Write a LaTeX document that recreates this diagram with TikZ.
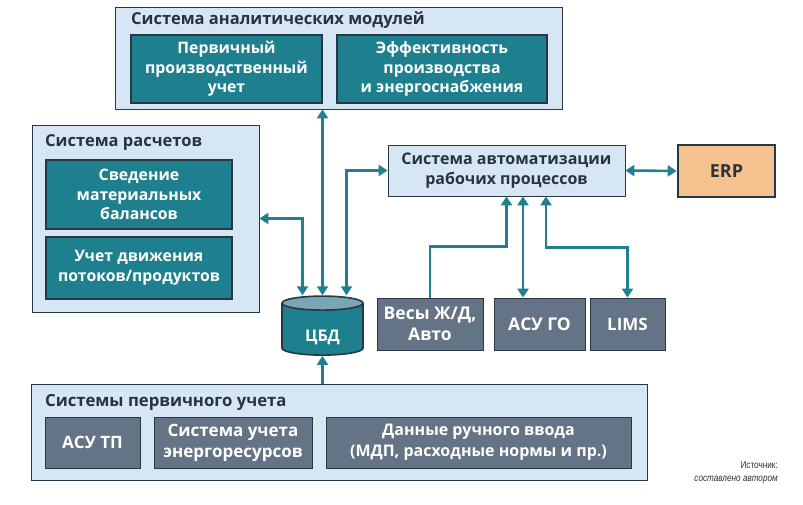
\documentclass[tikz,border=0pt]{standalone}
\usepackage{fontspec}
\setmainfont{Open Sans}
\newfontfamily\notefont[FakeStretch=0.82]{Liberation Sans}
\usepackage{tikz}
\usetikzlibrary{shapes.geometric, arrows.meta, positioning, calc}

\definecolor{groupblue}{RGB}{214, 230, 245}
\definecolor{linedark}{RGB}{40, 55, 68}
\definecolor{modteal}{RGB}{30, 127, 142}
\definecolor{arrowteal}{RGB}{30, 128, 145}
\definecolor{srcgray}{RGB}{100, 115, 134}
\definecolor{captop}{RGB}{122, 166, 180}
\definecolor{erporange}{RGB}{245, 193, 143}
\definecolor{textdark}{RGB}{42, 50, 60}

\tikzset{
  group/.style={draw=linedark, line width=0.8pt, fill=groupblue, inner sep=0pt},
  grouptitle/.style={anchor=west, inner sep=0pt, text=textdark, font=\bfseries\fontsize{16.5}{18}\selectfont},
  modbox/.style={draw=linedark, line width=2.6pt, fill=modteal, text=white, align=center, inner sep=0pt, font=\bfseries\fontsize{15.8}{19.5}\selectfont},
  srcbox/.style={draw=linedark, line width=0.8pt, fill=srcgray, text=white, align=center, inner sep=0pt, font=\bfseries\fontsize{17}{21}\selectfont},
  link/.style={draw=arrowteal, line width=2.6pt, -{Triangle[length=9pt, width=11pt]}},
  bilink/.style={link, {Triangle[length=9pt, width=11pt]}-{Triangle[length=9pt, width=11pt]}},
}

\begin{document}
\begin{tikzpicture}[x=1pt, y=-1pt]
  \useasboundingbox (0,0) rectangle (803,505);

  % Analytics modules
  \node[group, minimum width=447, minimum height=102] (analytic) at (338.5,58) {};
  \node[grouptitle] (analytictitle) at (131,20) {Система аналитических модулей};
  \node[modbox, minimum width=191, minimum height=68] (prodacc) at (226.5,69) {Первичный\\производственный\\учет};
  \node[modbox, minimum width=210, minimum height=68] (effic) at (442,69) {Эффективность\\производства\\и энергоснабжения};

  % Calculations
  \node[group, minimum width=227, minimum height=187] (calc) at (145.5,218.5) {};
  \node[grouptitle] (calctitle) at (45,143) {Система расчетов};
  \node[modbox, minimum width=186, minimum height=69] (balance) at (139,194.5) {Сведение\\материальных\\балансов};
  \node[modbox, minimum width=186, minimum height=62] (flows) at (139,268) {Учет движения\\потоков/продуктов};

  % Central database
  \node[cylinder, shape border rotate=90, aspect=0.4, draw=linedark, line width=1.6pt,
        cylinder uses custom fill, cylinder body fill=modteal, cylinder end fill=captop,
        minimum width=81, minimum height=59, inner sep=0pt, text=white,
        text height=27pt, text depth=3pt,
        font=\bfseries\fontsize{16}{18}\selectfont] (cbd) at (322.5,329.5) {ЦБД};

  % Workflow automation and ERP
  \node[group, align=center, minimum width=237, minimum height=51, text=textdark,
        font=\bfseries\fontsize{16}{19.5}\selectfont] (auto) at (506.5,170.5) {Система автоматизации\\рабочих процессов};
  \node[draw=linedark, line width=2.6pt, fill=erporange, minimum width=97, minimum height=52,
        text=textdark, font=\bfseries\fontsize{18}{20}\selectfont] (erp) at (726.5,171) {ERP};

  % External sources
  \node[srcbox, minimum width=106, minimum height=52, font=\bfseries\fontsize{17.5}{21}\selectfont] (scales) at (430,324) {Весы Ж/Д,\\Авто};
  \node[srcbox, minimum width=91, minimum height=52, font=\bfseries\fontsize{17.5}{21}\selectfont] (asugo) at (539.5,324) {АСУ ГО};
  \node[srcbox, minimum width=75, minimum height=52] (lims) at (627.5,324) {LIMS};

  % Primary accounting
  \node[group, minimum width=616, minimum height=96] (primary) at (339,432) {};
  \node[grouptitle, font=\bfseries\fontsize{16.7}{18}\selectfont] (primarytitle) at (45,402) {Системы первичного учета};
  \node[srcbox, minimum width=95, minimum height=51] (asutp) at (92.5,442.5) {АСУ ТП};
  \node[srcbox, minimum width=158, minimum height=51] (energy) at (233,442.5) {Система учета\\энергоресурсов};
  \node[srcbox, minimum width=305, minimum height=51, font=\bfseries\fontsize{16}{21}\selectfont] (manual) at (478.5,442.5) {Данные ручного ввода\\(МДП, расходные нормы и пр.)};

  % Source note
  \node[anchor=east, align=right, inner sep=0pt, text=textdark, font=\notefont\fontsize{10}{13}\selectfont] (source) at (778,472.5) {Источник:\\\itshape составлено автором};

  % Connections
  \draw[bilink] (cbd.north) -- (cbd.north |- analytic.south);
  \draw[bilink] ([xshift=-20]cbd.north) |- (calc.east);
  \draw[bilink] ([xshift=24]cbd.north) |- (auto.west);
  \draw[link] (cbd.south |- primary.north) -- (cbd.south);
  \draw[bilink] (auto.east) -- (erp.west);
  \draw[link] (scales.north) -- ++(0,-51) -| (auto.south);
  \draw[bilink] ([xshift=-16.5]asugo.north) -- ([xshift=-16.5]asugo.north |- auto.south);
  \draw[bilink] ([xshift=39.5]auto.south) -- ++(0,51) -| (lims.north);
\end{tikzpicture}
\end{document}
